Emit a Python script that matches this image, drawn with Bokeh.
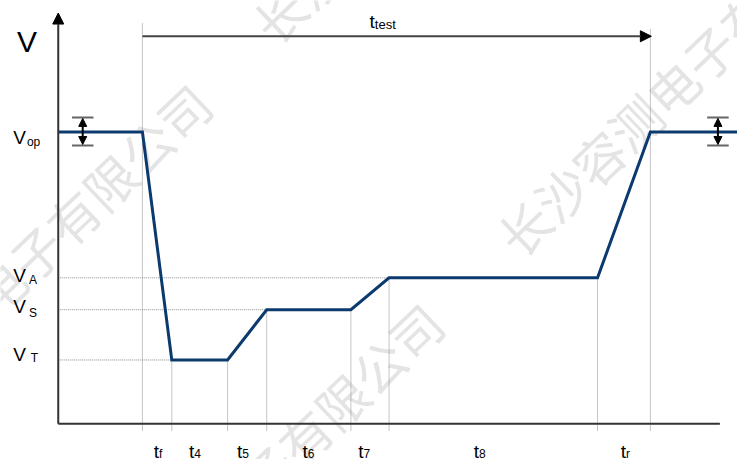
from bokeh.plotting import figure
from bokeh.models import Range1d, Arrow, NormalHead
from bokeh.core.properties import value
from bokeh.embed import file_html
from bokeh.resources import INLINE

# ---------------- data (diagram units) ----------------
phase_times = [0, 86, 116, 173, 213, 299, 338, 551, 605, 694]
V_OP, V_A, V_S, V_T = 302, 151, 118, 66
wave_v = [V_OP, V_OP, V_T, V_T, V_S, V_S, V_A, V_A, V_OP, V_OP]
interval_subs = ["f", "4", "5", "6", "7", "8", "r"]
level_subs = ["op", "A", "S", "T"]
level_values = [V_OP, V_A, V_S, V_T]
test_label_sub = "test"
watermark = "长沙容测电子有限公司"

# ---------------- layout / style ----------------
FONT = value("Liberation Sans")
WAVE_COLOR = "#0b3a6e"
AXIS_COLOR = "#333333"
DOT_COLOR = "#8c8c8c"
T_TOP = 401          # height of the t_test arrow
X_END = 676          # end of x axis

p = figure(width=737, height=459, output_backend="svg", toolbar_location=None,
           x_range=Range1d(-59, 694), y_range=Range1d(-37, 438),
           min_border=0, outline_line_color=None)
p.xaxis.visible = False
p.yaxis.visible = False
p.grid.visible = False
p.background_fill_color = "white"

# watermark (behind everything)
wm_x = [457, 6, -231, 207]
wm_y = [185, -249, -22, 405]
p.text(x=wm_x, y=wm_y, text=[watermark] * 4, angle=0.76,
       text_font=value("Noto Sans CJK SC"), text_font_size="51px",
       text_color="#e4e4e4", text_align="left", text_baseline="middle")

# vertical dotted guide lines at the phase marks
marks = phase_times[1:9]
tops = []
for i, t in enumerate(marks, start=1):
    if i == 1:
        tops.append(T_TOP + 14)
    elif i == 8:
        tops.append(T_TOP + 7)
    else:
        tops.append(wave_v[i])
p.segment(x0=marks, y0=[-7] * len(marks), x1=marks, y1=tops,
          line_color=DOT_COLOR, line_width=1, line_dash="1 1")

# horizontal dotted guide lines for V_A, V_S, V_T
h_levels = level_values[1:]
h_ends = [phase_times[wave_v.index(v)] for v in h_levels]
p.segment(x0=[0] * len(h_levels), y0=h_levels, x1=h_ends, y1=h_levels,
          line_color=DOT_COLOR, line_width=1, line_dash="1 1")

# axes
p.segment(x0=[0], y0=[0], x1=[X_END], y1=[0], line_color=AXIS_COLOR, line_width=2)
p.add_layout(Arrow(end=NormalHead(size=11, fill_color="black", line_color="black"),
                   x_start=0, y_start=0, x_end=0, y_end=425,
                   line_color=AXIS_COLOR, line_width=2))

# waveform
p.line(x=phase_times, y=wave_v, line_color=WAVE_COLOR, line_width=3,
       line_join="miter")

# t_test arrow
p.add_layout(Arrow(end=NormalHead(size=11, fill_color="black", line_color="black"),
                   x_start=phase_times[1], y_start=T_TOP,
                   x_end=phase_times[8] + 1, y_end=T_TOP,
                   line_color="#444444", line_width=2))

# tolerance markers at V_op
for mx in [25, 674]:
    p.segment(x0=[mx - 11, mx - 11], y0=[V_OP + 15, V_OP - 14],
              x1=[mx + 11, mx + 11], y1=[V_OP + 15, V_OP - 14],
              line_color="#666666", line_width=2)
    p.add_layout(Arrow(start=NormalHead(size=8, fill_color="black", line_color="black"),
                       end=NormalHead(size=8, fill_color="black", line_color="black"),
                       x_start=mx, y_start=V_OP - 13, x_end=mx, y_end=V_OP + 14,
                       line_color="black", line_width=2))

# big "V" axis label
p.text(x=[-32], y=[396], text=["V"], text_font=FONT, text_font_size="30px",
       text_color="black", text_align="center", text_baseline="alphabetic")

# level labels
v_dy = [-6, 2, 3, 6]
sub_dy = [-10, -2, -3, 2]
sub_x = [-32, -30, -30, -28]
p.text(x=[-46] * 4, y=[lv + d for lv, d in zip(level_values, v_dy)], text=["V"] * 4,
       text_font=FONT, text_font_size="19px", text_color="black",
       text_align="left", text_baseline="alphabetic")
p.text(x=sub_x, y=[lv + d for lv, d in zip(level_values, sub_dy)], text=level_subs,
       text_font=FONT, text_font_size="12px", text_color="black",
       text_align="left", text_baseline="alphabetic")

# interval labels under the x axis
nudge = [2, -5.5, -5, -1, -6.5, -14.5, 2]
mids = [(marks[i] + marks[i + 1]) / 2 + nudge[i] for i in range(len(interval_subs))]
p.text(x=mids, y=[-29] * len(mids), text=["t"] * len(mids),
       text_font=FONT, text_font_size="19px", text_color="black",
       text_align="right", text_baseline="alphabetic")
p.text(x=mids, y=[-31] * len(mids), text=interval_subs,
       text_font=FONT, text_font_size="12px", text_color="black",
       text_align="left", text_baseline="alphabetic")

# t_test label
tj = (phase_times[1] + phase_times[8]) / 2 - 22
p.text(x=[tj], y=[416], text=["t"], text_font=FONT, text_font_size="19px",
       text_color="black", text_align="right", text_baseline="alphabetic")
p.text(x=[tj], y=[413], text=[test_label_sub], text_font=FONT, text_font_size="13px",
       text_color="black", text_align="left", text_baseline="alphabetic")

open("out.html", "w").write(file_html(p, INLINE))
